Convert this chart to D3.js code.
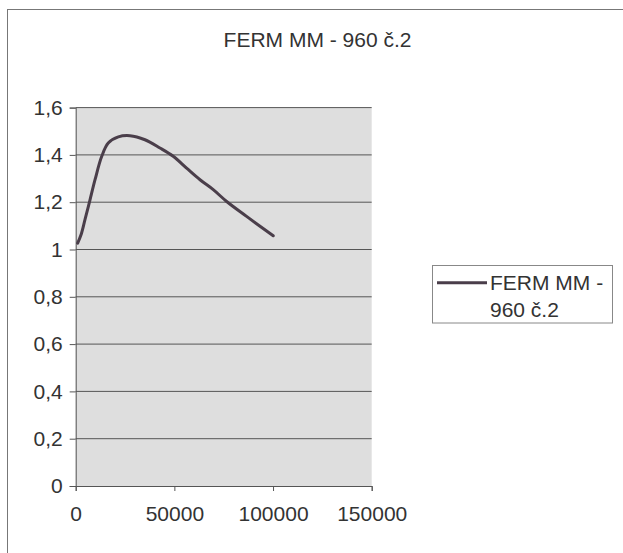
<!DOCTYPE html>
<html>
<head>
<meta charset="utf-8">
<script src="https://cdn.jsdelivr.net/npm/d3@7"></script>
<style>
  html, body { margin: 0; padding: 0; background: #fff; }
  svg { display: block; }
</style>
</head>
<body>
<svg id="chart" width="623" height="553"></svg>
<script>
const chartTitle = "FERM MM - 960 č.2";
const seriesName = ["FERM MM -", "960 č.2"];
const xValues = [1000, 2700, 4700, 7250, 9800, 13200, 16500, 21600, 27500, 35100, 42700, 49400, 56200, 63000, 69700, 76500, 86600, 100100];
const yValues = [1.027, 1.062, 1.126, 1.210, 1.295, 1.394, 1.450, 1.476, 1.481, 1.464, 1.429, 1.394, 1.344, 1.295, 1.253, 1.203, 1.140, 1.058];
const xTicks = [0, 50000, 100000, 150000];
const yTicks = [0, 0.2, 0.4, 0.6, 0.8, 1.0, 1.2, 1.4, 1.6];

const svg = d3.select("#chart");
const font = "'Liberation Sans', Arial, sans-serif";
const textColor = "#333";

// outer border
svg.append("rect").attr("x", 7.5).attr("y", 9.5).attr("width", 640).attr("height", 600)
  .attr("fill", "none").attr("stroke", "#777").attr("stroke-width", 1);

const plot = { left: 75.7, right: 371.7, top: 107.6, bottom: 486 };
const x = d3.scaleLinear().domain([0, 150000]).range([plot.left, plot.right]);
const y = d3.scaleLinear().domain([0, 1.6]).range([plot.bottom, plot.top]);

// plot area background
svg.append("rect").attr("x", plot.left).attr("y", plot.top)
  .attr("width", plot.right - plot.left).attr("height", plot.bottom - plot.top)
  .attr("fill", "#dedede");

// gridlines
svg.append("g").selectAll("line").data(yTicks.filter(d => d > 0)).join("line")
  .attr("x1", plot.left).attr("x2", plot.right)
  .attr("y1", d => y(d)).attr("y2", d => y(d))
  .attr("stroke", "#555").attr("stroke-width", 1);

const fmtY = d => d3.format("~g")(+d.toFixed(1)).replace(".", ",");

// y axis
const yAxis = svg.append("g").attr("transform", `translate(${plot.left},0)`)
  .call(d3.axisLeft(y).tickValues(yTicks).tickSize(6).tickPadding(7).tickFormat(fmtY));
yAxis.select(".domain").attr("stroke", "#555");
yAxis.selectAll(".tick line").attr("stroke", "#555");
yAxis.selectAll("text").attr("font-family", font).attr("font-size", 21).attr("fill", textColor);

// x axis
const xAxis = svg.append("g").attr("transform", `translate(0,${plot.bottom})`)
  .call(d3.axisBottom(x).tickValues(xTicks).tickSize(5).tickPadding(15).tickFormat(d3.format("d")));
xAxis.select(".domain").attr("stroke", "#555");
xAxis.selectAll(".tick line").attr("stroke", "#555");
xAxis.selectAll("text").attr("font-family", font).attr("font-size", 21).attr("fill", textColor);

// series line
const pts = xValues.map((v, i) => [v, yValues[i]]);
const line = d3.line().x(d => x(d[0])).y(d => y(d[1])).curve(d3.curveCatmullRom.alpha(0.5));
svg.append("path").datum(pts).attr("d", line)
  .attr("fill", "none").attr("stroke", "#4a3e4a").attr("stroke-width", 3)
  .attr("stroke-linecap", "round").attr("stroke-linejoin", "round");

// title
svg.append("text").attr("x", 317.5).attr("y", 46.7).attr("text-anchor", "middle")
  .attr("font-family", font).attr("font-size", 21).attr("fill", textColor).text(chartTitle);

// legend
const lg = svg.append("g");
lg.append("rect").attr("x", 432.5).attr("y", 265.5).attr("width", 180).attr("height", 57.5)
  .attr("fill", "#fff").attr("stroke", "#888").attr("stroke-width", 1);
lg.append("line").attr("x1", 437).attr("x2", 487).attr("y1", 282.7).attr("y2", 282.7)
  .attr("stroke", "#4a3e4a").attr("stroke-width", 3);
lg.selectAll("text.leg").data(seriesName).join("text").attr("class", "leg")
  .attr("x", 490).attr("y", (d, i) => 290 + i * 26.7)
  .attr("font-family", font).attr("font-size", 21).attr("fill", textColor).text(d => d);
</script>
</body>
</html>
